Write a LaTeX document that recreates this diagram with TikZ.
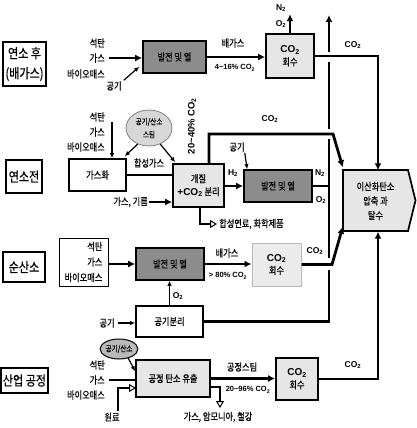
\documentclass[tikz,border=0pt]{standalone}
\usepackage{fontspec}
\setmainfont{Liberation Sans}
\newfontfamily\kr[FakeStretch=0.82,FakeBold=0.6]{Noto Sans CJK KR}
\usetikzlibrary{arrows.meta,shapes.geometric}
\newcommand\cotwo{CO\textsubscript{2}}
\newcommand\chem[1]{{\normalfont\bfseries #1}}
\definecolor{darkf}{RGB}{140,140,140}
\definecolor{lightf}{RGB}{230,230,230}
\definecolor{ellf}{RGB}{215,215,215}
\definecolor{ellb}{RGB}{185,185,185}
\begin{document}
\begin{tikzpicture}[x=1pt,y=-1pt,
 conn/.style={line width=2.8pt},
 thin/.style={line width=1.2pt},
 arr/.style={-{Latex[length=7pt,width=7pt]}},
 tarr/.style={-{Latex[length=5pt,width=4.5pt]}},
 oarr/.style={-{Triangle[open,length=7pt,width=8pt,line width=1pt]}},
 box/.style={draw, line width=1.7pt, inner sep=1pt, align=center, font=\kr\fontsize{10}{13}\selectfont},
 dbox/.style={box, fill=darkf},
 lbox/.style={box, fill=lightf},
 wbox/.style={box, fill=white},
 sidelab/.style={draw, line width=1.7pt, align=center, inner sep=0pt, font=\kr\fontsize{13.5}{20}\selectfont},
 tx/.style={font=\kr\fontsize{10}{11}\selectfont, inner sep=1pt},
 ch/.style={font=\bfseries\fontsize{8.5}{9}\selectfont, inner sep=1pt},
 pc/.style={font=\bfseries\fontsize{7.5}{8}\selectfont, inner sep=1pt},
 ell/.style={ellipse, draw, inner sep=0pt, align=center, font=\kr\fontsize{8}{13}\selectfont}
]
\useasboundingbox (0,0) rectangle (417,428);

% ---------- row 1 : post-combustion
\node[sidelab, minimum width=43pt, minimum height=44pt] (L1) at (24.5,64) {연소 후\\(배가스)};
\node[tx, anchor=east] (c1) at (106,43) {석탄};
\node[tx, anchor=east] (g1) at (106,58) {가스};
\node[tx, anchor=east] (b1) at (106,74) {바이오매스};
\node[tx] (air1) at (114,86) {공기};
\node[dbox, minimum width=63pt, minimum height=32pt] (P1) at (174.5,57) {발전 및 열};
\node[lbox, minimum width=48pt, minimum height=44pt] (R1) at (290,56) {\chem{\cotwo}\\회수};
\node[tx] (exh1) at (233,43) {배가스};
\node[pc] (pc1) at (235,68) {4\textasciitilde16\% \cotwo};
\node[ch] (n2a) at (281,8) {N\textsubscript{2}};
\node[ch] (o2a) at (281,24) {O\textsubscript{2}};
\node[ch] (co2a) at (353,45) {\cotwo};

% compression box
\filldraw[line width=1.7pt, fill=lightf] (343,170) -- (408,170) -- (415.5,200.5) -- (408,231) -- (343,231) -- cycle;
\node[align=center, inner sep=0pt, minimum width=65pt, minimum height=61pt, font=\kr\fontsize{10}{14.5}\selectfont] (comp) at (375.5,201) {이산화탄소\\압축 과\\탈수};

\draw[conn,arr] ([xshift=3pt]g1.east) -- (P1.west |- g1.east);
\draw[thin,tarr] ([xshift=1pt]air1.north east) -- ([shift={(-3,-7)}]P1.south west);
\draw[conn,arr] (P1.east) -- (R1.west |- P1.east);
\draw[conn,arr] (R1.north) -- ++(0,-19);
\draw[conn,arr] (R1.east) -| ([xshift=2.5pt]comp.north);

% ---------- row 2 : pre-combustion
\node[sidelab, minimum width=36pt, minimum height=33pt] (L2) at (24,176.5) {연소전};
\node[tx, anchor=east] (c2) at (106,117) {석탄};
\node[tx, anchor=east] (g2) at (106,132) {가스};
\node[tx, anchor=east] (b2) at (106,147) {바이오매스};
\node[ell, draw=gray, line width=0.8pt, fill=ellf, minimum width=46pt, minimum height=36pt] (E1) at (149,128) {공기/산소\\스팀};
\node[wbox, minimum width=57pt, minimum height=32pt] (G) at (97.5,175) {가스화};
\node[lbox, minimum width=51pt, minimum height=43pt] (S) at (198.5,185.5) {개질\\\chem{+\cotwo} 분리};
\node[dbox, minimum width=68pt, minimum height=32pt] (P2) at (278,186) {발전 및 열};
\node[tx] (syn) at (149,163) {합성가스};
\node[tx, anchor=east] (oil) at (149,202) {가스, 기름};
\node[font=\bfseries\fontsize{9.5}{10}\selectfont, inner sep=1pt, rotate=90] (pc2) at (192,126) {20\textasciitilde40\% \cotwo};
\node[ch] (co2b) at (270,119) {\cotwo};
\node[ch] (h2) at (233,173) {H\textsubscript{2}};
\node[tx] (air2) at (237,147) {공기};
\node[ch] (n2b) at (320,173) {N\textsubscript{2}};
\node[ch] (o2b) at (321,200) {O\textsubscript{2}};
\node[tx, anchor=west] (prod2) at (218,224) {합성연료, 화학제품};

\coordinate (gin) at (112,122);
\draw[thin,tarr] (gin) -- (gin |- G.north);
\draw[thin,tarr] (E1.235) -- ([shift={(-2,-2)}]G.north east);
\draw[thin,tarr] (E1.-55) -- ([shift={(3,-1)}]S.north west);
\draw[conn] (G.east) -- (S.west |- G.east);
\draw[conn,arr] (oil.east) -- (S.west |- oil.east);
\draw[conn,arr] (S.east |- P2.west) -- (P2.west);
\coordinate (k1) at (209,134);
\coordinate (k2) at (333,134);
\draw[conn,arr] ([xshift=10.5pt]S.north) -- (k1) -- (k2) -- ([yshift=3pt]comp.north west);
\draw[thin,tarr] ([xshift=-1pt]air2.south east) -- ([xshift=4pt]P2.north west);
\coordinate (vj) at (329,186);
\draw[conn] (P2.east) -- (vj);
\draw[thin,oarr] ([xshift=1.5pt]S.south) |- ([xshift=-1pt]prod2.west);

% ---------- row 3 : oxy-fuel
\node[sidelab, minimum width=42pt, minimum height=30pt] (L3) at (24,267) {순산소};
\node[draw, line width=0.6pt, minimum width=49pt, minimum height=48pt, align=right, inner sep=2pt, font=\kr\fontsize{10}{15.5}\selectfont] (F3) at (83.5,262) {석탄\\가스\\바이오매스};
\node[dbox, minimum width=68pt, minimum height=32pt] (P3) at (170,264) {발전 및 열};
\node[box, draw=gray!55, line width=1pt, fill=lightf!80, minimum width=49pt, minimum height=43pt] (R3) at (276.5,264.5) {\chem{\cotwo}\\회수};
\node[wbox, minimum width=67pt, minimum height=31pt] (A) at (169.5,321.5) {공기분리};
\node[tx] (exh3) at (227,253) {배가스};
\node[pc] (pc3) at (228,276) {> 80\% \cotwo};
\node[ch] (co2c) at (315,251) {\cotwo};
\node[ch] (o2c) at (178,296) {O\textsubscript{2}};
\node[tx] (air3) at (107,323) {공기};

\draw[conn,arr] (F3.east |- P3.west) -- (P3.west);
\draw[conn,arr] (P3.east) -- (R3.west |- P3.east);
\coordinate (k3) at (332,264.5);
\draw[conn,arr] (R3.east) -- (k3) -- ([yshift=5pt]comp.south west);
\draw[thin,tarr] (A.north) -- (A.north |- P3.south);
\draw[thin,tarr] ([xshift=2pt]air3.east) -- (A.west |- air3.east);

% vent line with bridge gaps
\coordinate (v1) at (329,270);
\coordinate (v2) at (329,258);
\coordinate (v3) at (329,139);
\coordinate (v4) at (329,129);
\coordinate (v5) at (329,62);
\coordinate (v6) at (329,52);
\coordinate (v7) at (329,15);
\draw[conn] (A.east) -| (v1);
\draw[conn] (v2) -- (v3);
\draw[conn] (v4) -- (v5);
\draw[conn,arr] (v6) -- (v7);

% ---------- row 4 : industrial
\node[sidelab, minimum width=47pt, minimum height=25pt] (L4) at (24.5,380.5) {산업 공정};
\node[ell, line width=1pt, fill=ellb, minimum width=34pt, minimum height=20pt] (E2) at (119,349) {공기/산소};
\node[tx, anchor=east] (c4) at (106,365) {석탄};
\node[tx, anchor=east] (g4) at (106,380) {가스};
\node[tx, anchor=east] (b4) at (106,395) {바이오매스};
\node[lbox, minimum width=74pt, minimum height=37pt] (I) at (173,378.5) {공정 탄소 유출};
\node[lbox, minimum width=42pt, minimum height=42pt] (R4) at (297,379) {\chem{\cotwo}\\회수};
\node[tx] (st4) at (242,367) {공정스팀};
\node[pc] (pc4) at (248,390) {20\textasciitilde96\% \cotwo};
\node[ch] (co2d) at (353,365) {\cotwo};
\node[tx] (raw) at (112,417) {원료};
\node[tx] (prod4) at (218,417) {가스, 암모니아, 철강};

\draw[conn] ([xshift=3pt]g4.east) -- (I.west |- g4.east);
\draw[thin,tarr] (E2.-45) -- ([yshift=-12pt]I.north west);
\coordinate (rawend) at (136,388);
\draw[thin,oarr] ([xshift=6pt]raw.north) |- (rawend);
\draw[conn,arr] (I.east) -- (R4.west |- I.east);
\draw[conn,arr] (R4.east) -| ([xshift=2.5pt]comp.south);
\coordinate (p4tip) at (220,408);
\draw[thin,oarr] ([yshift=-8.5pt]I.east) -| (p4tip);
\end{tikzpicture}
\end{document}
